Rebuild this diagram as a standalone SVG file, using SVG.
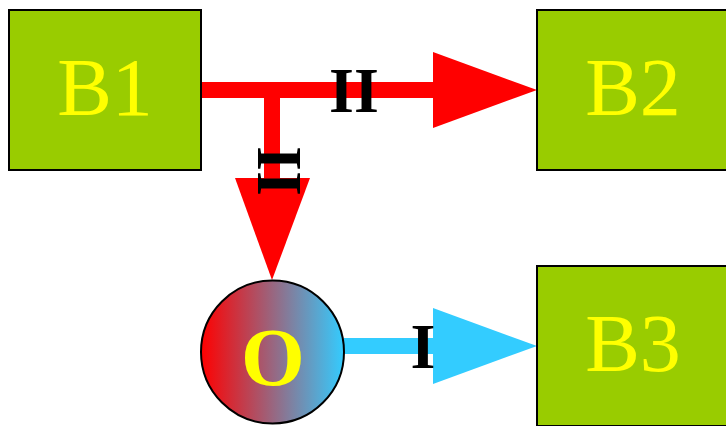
<svg xmlns="http://www.w3.org/2000/svg" width="726" height="426" viewBox="0 0 726 426">
<defs>
<linearGradient id="g" x1="0" y1="0" x2="1" y2="0">
<stop offset="0" stop-color="#ff0000"/>
<stop offset="1" stop-color="#33ccff"/>
</linearGradient>
<style>
.box{fill:#99cc00;stroke:#000;stroke-width:2}
.bt{font-family:"Liberation Serif",serif;font-size:82px;fill:#ffff00;text-anchor:middle}
.lab{font-family:"Liberation Serif",serif;font-weight:bold;font-size:64px;fill:#000;text-anchor:middle}
</style>
</defs>
<rect width="726" height="426" fill="#fff"/>
<g id="connectors">
<path d="M201 90 H435 M272 90 V180" stroke="#ff0000" stroke-width="16" fill="none"/>
<polygon points="433,52 537,90 433,128" fill="#ff0000"/>
<polygon points="235,178 310,178 272,280" fill="#ff0000"/>
<path d="M344 346 H435" stroke="#33ccff" stroke-width="16" fill="none"/>
<polygon points="433,308 537,346 433,384" fill="#33ccff"/>
<text class="lab" x="354" y="112">II</text>
<text class="lab" x="0" y="0" transform="translate(280 171) rotate(90) translate(0 22)">II</text>
<text class="lab" x="423" y="368">I</text>
</g>
<g id="B1">
<rect class="box" x="9" y="10" width="192" height="160"/>
<text class="bt" x="105" y="115">B1</text>
</g>
<g id="B2">
<rect class="box" x="537" y="10" width="192" height="160"/>
<text class="bt" x="633" y="115">B2</text>
</g>
<g id="B3">
<rect class="box" x="537" y="266" width="192" height="160"/>
<text class="bt" x="633" y="371">B3</text>
</g>
<g id="O">
<circle cx="272.5" cy="352" r="71.5" fill="url(#g)" stroke="#000" stroke-width="2"/>
<text x="273" y="385" font-family="Liberation Serif,serif" font-weight="bold" font-size="82" fill="#ffff00" text-anchor="middle">O</text>
</g>
</svg>
